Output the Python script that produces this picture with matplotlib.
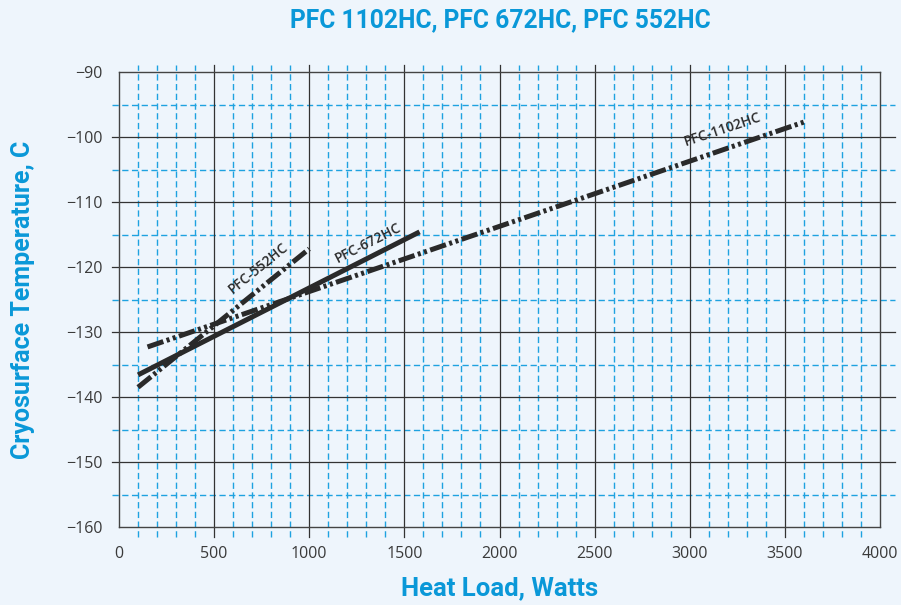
import matplotlib.pyplot as plt

plt.rcParams['lines.scale_dashes'] = False

# data
load_1102 = [150, 3600]
temp_1102 = [-132.3, -97.7]
load_672 = [100, 1580]
temp_672 = [-136.6, -114.6]
load_552 = [100, 1000]
temp_552 = [-138.5, -117.2]

x_major = [500, 1000, 1500, 2000, 2500, 3000, 3500]
x_minor = [v for v in range(100, 4000, 100) if v % 500 != 0]
y_major = [-100, -110, -120, -130, -140, -150]
y_minor = [-95, -105, -115, -125, -135, -145, -155]
x_ticks = [0, 500, 1000, 1500, 2000, 2500, 3000, 3500, 4000]
y_ticks = [-90, -100, -110, -120, -130, -140, -150, -160]

bg = '#eef5fc'
blue = '#0a98d8'
grid_blue = '#1ea2e0'
ink = '#2a2a2a'

fig = plt.figure(figsize=(9.01, 6.05), dpi=100, facecolor=bg)
ax = fig.add_axes([119/901, 1 - 527/605, (880 - 119)/901, (527 - 72)/605])
ax.set_facecolor(bg)
ax.set_xlim(0, 4000)
ax.set_ylim(-160, -90)

# grid, drawn a bit past the frame like the original
xt = ax.get_xaxis_transform()
yt = ax.get_yaxis_transform()
for v in x_minor:
    ax.plot([v, v], [-0.022, 1.015], transform=xt, color=grid_blue, lw=1.0,
            dashes=(4.5, 2.5), clip_on=False, zorder=1)
for v in y_minor:
    ax.plot([-0.009, 1.02], [v, v], transform=yt, color=grid_blue, lw=1.0,
            dashes=(4.5, 2.5), clip_on=False, zorder=1)
for v in x_major:
    ax.plot([v, v], [-0.022, 1.015], transform=xt, color='#333333', lw=0.9,
            clip_on=False, zorder=2)
for v in y_major:
    ax.plot([-0.009, 1.02], [v, v], transform=yt, color='#333333', lw=0.9,
            clip_on=False, zorder=2)

for s in ax.spines.values():
    s.set_color('#444444')
    s.set_linewidth(1.0)

ax.set_xticks(x_ticks)
ax.set_yticks(y_ticks)
ax.set_yticklabels(['\u2212' + str(abs(v)) for v in y_ticks])
ax.tick_params(axis='x', length=0, pad=14, labelsize=11.5, labelcolor='#3a3a3a')
ax.tick_params(axis='y', length=0, pad=12, labelsize=11.5, labelcolor='#3a3a3a')
for lab in ax.get_xticklabels() + ax.get_yticklabels():
    lab.set_family('Open Sans')

pattern = (12, 2.5, 2.2, 2.5, 2.2, 2.5)
ax.plot(load_1102, temp_1102, color=ink, lw=3.6, dashes=pattern,
        dash_capstyle='butt', zorder=5)
ax.plot(load_672, temp_672, color=ink, lw=3.6, solid_capstyle='butt', zorder=5)
ax.plot(load_552, temp_552, color=ink, lw=3.6, dashes=pattern,
        dash_capstyle='butt', zorder=5)

lab_kw = dict(color=ink, fontsize=10, family='Open Sans', weight='semibold',
              ha='center', va='center', rotation_mode='anchor', zorder=6)
ax.text(3170, -98.9, 'PFC-1102HC', rotation=18.5, **lab_kw)
ax.text(1308, -116.3, 'PFC-672HC', rotation=27, **lab_kw)
ax.text(730, -120.2, 'PFC-552HC', rotation=39, **lab_kw)

title_font = ['Roboto', 'DejaVu Sans']
fig.text(0.555, 1 - 20/605, 'PFC 1102HC, PFC 672HC, PFC 552HC', color=blue,
         fontsize=17.7, weight='bold', family=title_font, ha='center', va='center')
fig.text(0.555, 1 - 588/605, 'Heat Load, Watts', color=blue,
         fontsize=18.5, weight='bold', family=title_font, ha='center', va='center')
fig.text(23/901, 1 - 300/605, 'Cryosurface Temperature, C', color=blue,
         fontsize=18, weight='bold', family=title_font, ha='center', va='center',
         rotation=90)

fig.savefig('out.png', dpi=100, facecolor=bg)
